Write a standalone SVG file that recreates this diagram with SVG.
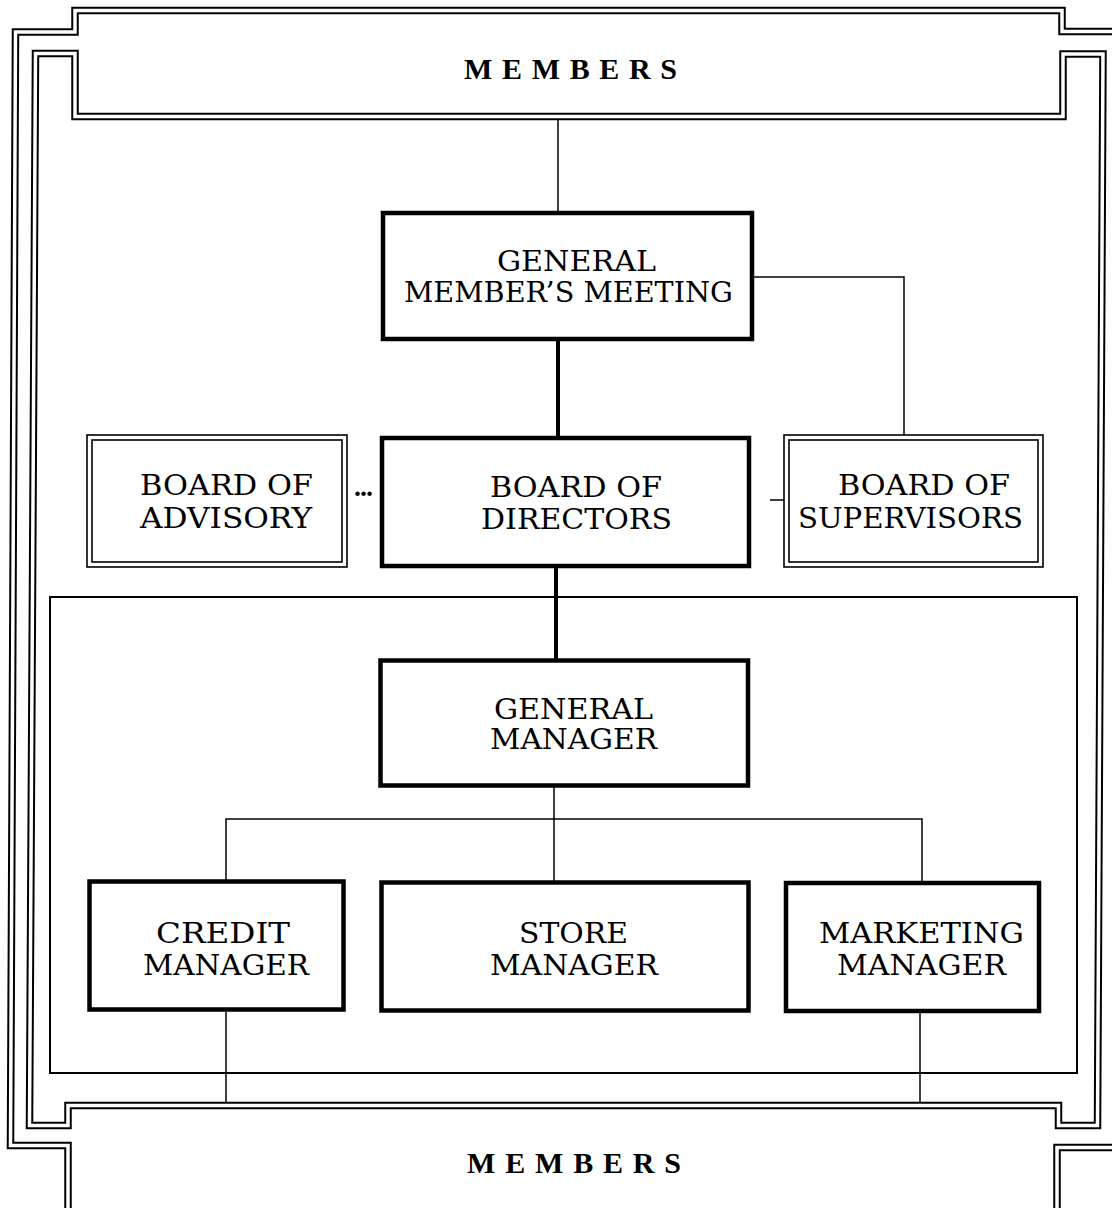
<svg xmlns="http://www.w3.org/2000/svg" width="1112" height="1208" viewBox="0 0 1112 1208">
  <defs>
    <style>
      .band-ink { fill: none; stroke: #000; stroke-width: 7.5; stroke-linejoin: miter; }
      .band-gap { fill: none; stroke: #fff; stroke-width: 3.5; stroke-linejoin: miter; }
      .frame { fill: none; stroke: #000; stroke-width: 2; }
      .box { fill: #fff; stroke: #000; stroke-width: 4.5; }
      .thin-box { fill: none; stroke: #000; stroke-width: 1.6; }
      .link { fill: none; stroke: #000; stroke-width: 1.5; }
      .link-bold { fill: none; stroke: #000; stroke-width: 4; }
      .label { font-family: "DejaVu Serif", "Liberation Serif", serif; font-size: 28px; fill: #000; }
      .members { font-family: "Liberation Serif", "Times New Roman", serif; font-size: 30px; font-weight: bold; fill: #000; }
      .ellipsis { font-family: "Liberation Serif", "Times New Roman", serif; font-size: 28px; font-weight: bold; letter-spacing: -1px; fill: #000; }
    </style>
  </defs>
  <rect width="1112" height="1208" fill="#fff"/>

  <!-- double-line border: outer contour and inner contour -->
  <g id="border">
    <path id="band-outer-a" class="band-ink" d="M 68 1215 V 1145.5 H 10.5 L 15.5 32 H 75 V 10.5 H 1062 V 31.5 H 1120"/>
    <path class="band-gap" d="M 68 1215 V 1145.5 H 10.5 L 15.5 32 H 75 V 10.5 H 1062 V 31.5 H 1120"/>
    <path id="band-outer-b" class="band-ink" d="M 1120 1147.5 H 1057 V 1215"/>
    <path class="band-gap" d="M 1120 1147.5 H 1057 V 1215"/>
    <path id="band-inner" class="band-ink" d="M 35.5 53.5 H 75 V 116.5 H 1063 V 54 H 1103 L 1097.5 1125.5 H 1058.5 V 1105.5 H 68 V 1125.5 H 29.5 Z"/>
    <path class="band-gap" d="M 35.5 53.5 H 75 V 116.5 H 1063 V 54 H 1103 L 1097.5 1125.5 H 1058.5 V 1105.5 H 68 V 1125.5 H 29.5 Z"/>
    <!-- management enclosure -->
    <rect class="frame" x="50" y="597" width="1027" height="476"/>
  </g>

  <!-- connectors -->
  <g id="connectors">
    <line class="link" x1="558" y1="119" x2="558" y2="211"/>
    <line class="link-bold" x1="558" y1="341" x2="558" y2="436"/>
    <polyline class="link" points="754,277 904,277 904,435"/>
    <line class="link-bold" x1="556" y1="568" x2="556" y2="659"/>
    <line class="link" x1="554" y1="787" x2="554" y2="819"/>
    <polyline class="link" points="226,881 226,819 922,819 922,881"/>
    <line class="link" x1="554" y1="819" x2="554" y2="881"/>
    <line class="link" x1="226" y1="1012" x2="226" y2="1103"/>
    <line class="link" x1="920" y1="1012" x2="920" y2="1103"/>
    <line class="link" x1="770" y1="500" x2="784" y2="500"/>
    <text class="ellipsis" x="354" y="496">...</text>
  </g>

  <g id="members-top">
    <text class="members" x="464" y="79" textLength="213" lengthAdjust="spacing">MEMBERS</text>
  </g>

  <g id="members-bottom">
    <text class="members" x="467" y="1173" textLength="214" lengthAdjust="spacing">MEMBERS</text>
  </g>

  <g id="general-members-meeting">
    <rect class="box" x="383" y="213" width="369" height="126"/>
    <text class="label" x="497" y="271" textLength="159" lengthAdjust="spacingAndGlyphs">GENERAL</text>
    <text class="label" x="404" y="302" textLength="329" lengthAdjust="spacingAndGlyphs">MEMBER’S MEETING</text>
  </g>

  <g id="board-of-advisory">
    <rect class="thin-box" x="87" y="435" width="260" height="132"/>
    <rect class="thin-box" x="92" y="440" width="250" height="122"/>
    <text class="label" x="140" y="495" textLength="173" lengthAdjust="spacingAndGlyphs">BOARD OF</text>
    <text class="label" x="140" y="528" textLength="172" lengthAdjust="spacingAndGlyphs">ADVISORY</text>
  </g>

  <g id="board-of-directors">
    <rect class="box" x="382" y="438" width="367" height="128"/>
    <text class="label" x="490" y="497" textLength="172" lengthAdjust="spacingAndGlyphs">BOARD OF</text>
    <text class="label" x="481" y="529" textLength="191" lengthAdjust="spacingAndGlyphs">DIRECTORS</text>
  </g>

  <g id="board-of-supervisors">
    <rect class="thin-box" x="784" y="435" width="259" height="132"/>
    <rect class="thin-box" x="789" y="440" width="249" height="122"/>
    <text class="label" x="838" y="495" textLength="172" lengthAdjust="spacingAndGlyphs">BOARD OF</text>
    <text class="label" x="798" y="528" textLength="225" lengthAdjust="spacingAndGlyphs">SUPERVISORS</text>
  </g>

  <g id="general-manager">
    <rect class="box" x="380.5" y="660.5" width="367.5" height="125"/>
    <text class="label" x="494" y="719" textLength="159" lengthAdjust="spacingAndGlyphs">GENERAL</text>
    <text class="label" x="490" y="749" textLength="167" lengthAdjust="spacingAndGlyphs">MANAGER</text>
  </g>

  <g id="credit-manager">
    <rect class="box" x="89.5" y="881.5" width="254" height="128"/>
    <text class="label" x="156" y="943" textLength="134" lengthAdjust="spacingAndGlyphs">CREDIT</text>
    <text class="label" x="143" y="975" textLength="166" lengthAdjust="spacingAndGlyphs">MANAGER</text>
  </g>

  <g id="store-manager">
    <rect class="box" x="381.5" y="882.5" width="367" height="128"/>
    <text class="label" x="519" y="943" textLength="109" lengthAdjust="spacingAndGlyphs">STORE</text>
    <text class="label" x="490" y="975" textLength="168" lengthAdjust="spacingAndGlyphs">MANAGER</text>
  </g>

  <g id="marketing-manager">
    <rect class="box" x="786" y="883" width="253" height="128"/>
    <text class="label" x="819" y="943" textLength="205" lengthAdjust="spacingAndGlyphs">MARKETING</text>
    <text class="label" x="837" y="975" textLength="169" lengthAdjust="spacingAndGlyphs">MANAGER</text>
  </g>
</svg>
